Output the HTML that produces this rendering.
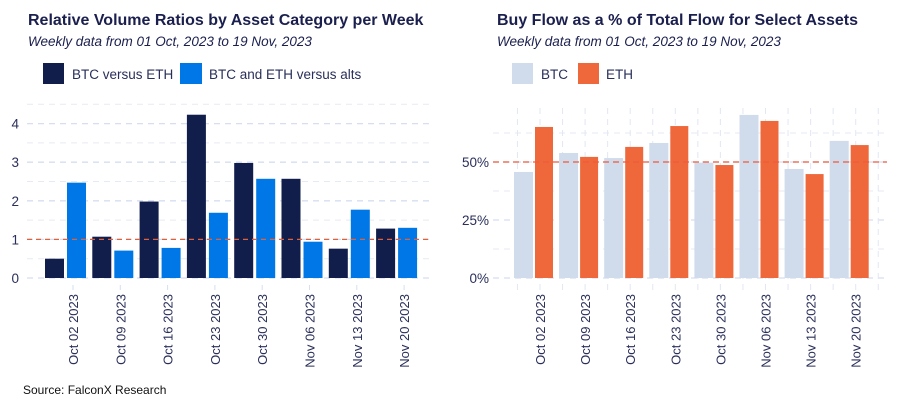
<!DOCTYPE html>
<html><head><meta charset="utf-8"><style>
body{margin:0;background:#fff;font-family:"Liberation Sans",sans-serif;}
svg text{font-family:"Liberation Sans",sans-serif;}
</style></head><body>
<svg width="900" height="400" viewBox="0 0 900 400" xmlns="http://www.w3.org/2000/svg">
<g id="left">
<text x="28" y="25" font-size="16" font-weight="bold" fill="#1a1f4e">Relative Volume Ratios by Asset Category per Week</text>
<text x="28" y="46" font-size="13.5" font-style="italic" fill="#1a1f4e">Weekly data from 01 Oct, 2023 to 19 Nov, 2023</text>
<rect x="43" y="63" width="21" height="21" fill="#111d4a"/>
<text x="72" y="79" font-size="13.5" fill="#2a2f5a">BTC versus ETH</text>
<rect x="180" y="63" width="22" height="21" fill="#0077e6"/>
<text x="209" y="79" font-size="13.5" fill="#2a2f5a">BTC and ETH versus alts</text>
<g id="lg"></g>
</g>
<g id="right">
<text x="497" y="25" font-size="16" font-weight="bold" fill="#1a1f4e">Buy Flow as a % of Total Flow for Select Assets</text>
<text x="497" y="46" font-size="13.5" font-style="italic" fill="#1a1f4e">Weekly data from 01 Oct, 2023 to 19 Nov, 2023</text>
<rect x="512" y="63" width="21" height="21" fill="#d0dbec"/>
<text x="541" y="79" font-size="13.5" fill="#2a2f5a">BTC</text>
<rect x="578" y="63" width="21" height="21" fill="#ef683b"/>
<text x="606" y="79" font-size="13.5" fill="#2a2f5a">ETH</text>
<g id="rg"></g>
</g>
<text x="23" y="394" font-size="12" fill="#111">Source: FalconX Research</text>
</svg>
<script>
const dates = ["Oct 02 2023","Oct 09 2023","Oct 16 2023","Oct 23 2023","Oct 30 2023","Nov 06 2023","Nov 13 2023","Nov 20 2023"];
const btcVsEth = [0.5,1.07,1.98,4.23,2.98,2.57,0.76,1.28];
const btcEthVsAlts = [2.47,0.71,0.78,1.69,2.57,0.94,1.77,1.30];
const leftTicks = [0,1,2,3,4];
const btcBuy = [45.7,53.9,51.7,58.2,49.7,70.3,47.0,59.1];
const ethBuy = [65.1,52.2,56.5,65.5,48.7,67.7,44.8,57.3];
const rightTicks = [0,25,50];
const NS="http://www.w3.org/2000/svg";
function mk(p,t,a){const e=document.createElementNS(NS,t);for(const k in a)e.setAttribute(k,a[k]);p.appendChild(e);return e;}
const lg=document.getElementById('lg');
const ly=v=>278-v*38.6;
const lx=i=>73+i*47.3;
for(let v=0;v<=4.5;v+=0.5){const major=v%1===0;
 const l=mk(lg,'line',{x1:27,x2:432,y1:ly(v),y2:ly(v),stroke:major?'#d6def0':'#e6eaf4','stroke-width':major?1.3:1,'stroke-dasharray':'6,5'});
 }
leftTicks.forEach(v=>{const t=mk(lg,'text',{x:19,y:ly(v)+5,'font-size':13.5,fill:'#2a2f5a','text-anchor':'end'});t.textContent=v;
 });
dates.forEach((d,i)=>{
 const a=mk(lg,'rect',{x:lx(i)-28,y:ly(btcVsEth[i]),width:19,height:ly(0)-ly(btcVsEth[i]),fill:'#111d4a'});
 
 const b=mk(lg,'rect',{x:lx(i)-6,y:ly(btcEthVsAlts[i]),width:19,height:ly(0)-ly(btcEthVsAlts[i]),fill:'#0077e6'});
 
 const tk=mk(lg,'line',{x1:lx(i),x2:lx(i),y1:285,y2:290,stroke:'#d6def0'});
 
 const t=mk(lg,'text',{x:0,y:0,'font-size':13,fill:'#2a2f5a','text-anchor':'end',transform:`translate(${lx(i)+5},294) rotate(-90)`});t.textContent=d;
 
});
const r1=mk(lg,'line',{x1:27,x2:432,y1:ly(1),y2:ly(1),stroke:'#e0603c','stroke-width':1.2,'stroke-dasharray':'5,4'});

const rg=document.getElementById('rg');
const ry=v=>278-v*2.32;
const rx=i=>540+i*45.1;
for(let v=0;v<=62.5;v+=12.5){const major=v%25===0;
 const l=mk(rg,'line',{x1:493,x2:887,y1:ry(v),y2:ry(v),stroke:major?'#d6def0':'#e6eaf4','stroke-width':major?1.3:1,'stroke-dasharray':'6,5'});
 }
for(let i=-0.5;i<8;i+=0.5){const l=mk(rg,'line',{x1:rx(i),x2:rx(i),y1:108,y2:290,stroke:'#e2e7f2','stroke-dasharray':'6,5'});
 }
rightTicks.forEach(v=>{const t=mk(rg,'text',{x:489,y:ry(v)+5,'font-size':13.5,fill:'#2a2f5a','text-anchor':'end'});t.textContent=v+'%';
 });
dates.forEach((d,i)=>{
 const a=mk(rg,'rect',{x:rx(i)-26,y:ry(btcBuy[i]),width:19,height:ry(0)-ry(btcBuy[i]),fill:'#d0dbec'});
 
 const b=mk(rg,'rect',{x:rx(i)-5,y:ry(ethBuy[i]),width:18,height:ry(0)-ry(ethBuy[i]),fill:'#ef683b'});
 
 const t=mk(rg,'text',{x:0,y:0,'font-size':13,fill:'#2a2f5a','text-anchor':'end',transform:`translate(${rx(i)+5},294) rotate(-90)`});t.textContent=d;
 
});
const r2=mk(rg,'line',{x1:493,x2:887,y1:ry(50),y2:ry(50),stroke:'#f0583a','stroke-width':1.3,'stroke-dasharray':'6,4'});

</script>
</body></html>
